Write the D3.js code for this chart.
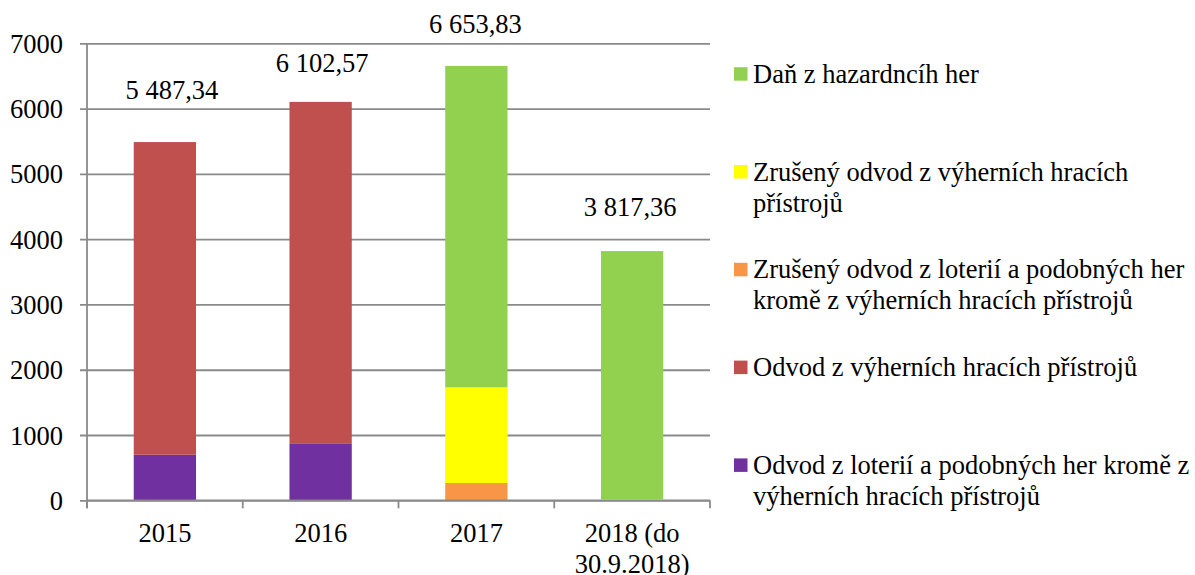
<!DOCTYPE html>
<html>
<head>
<meta charset="utf-8">
<script src="https://cdn.jsdelivr.net/npm/d3@7"></script>
<style>
    body { margin: 0; background: #fff; }
</style>
</head>
<body>
<div id="chart"></div>
<script>
// data (mil. Kč)
const categories = ['2015', '2016', '2017', '2018 (do 30.9.2018)'];
const categoryLines = [['2015'], ['2016'], ['2017'], ['2018 (do', '30.9.2018)']];
const odvodLoterie = [698, 873, 0, 0];             // purple
const odvodVhp = [4789.34, 5229.57, 0, 0];         // red
const zrusenyLoterie = [0, 0, 265, 0];             // orange
const zrusenyVhp = [0, 0, 1465, 20];               // yellow
const danHazard = [0, 0, 4923.83, 3797.36];        // green
const totals = [5487.34, 6102.57, 6653.83, 3817.36];
const totalLabels = ['5 487,34', '6 102,57', '6 653,83', '3 817,36'];
const yTicks = [0, 1000, 2000, 3000, 4000, 5000, 6000, 7000];

const seriesKeys = ['odvodLoterie', 'odvodVhp', 'zrusenyLoterie', 'zrusenyVhp', 'danHazard'];
const seriesNames = {
    odvodLoterie: ['Odvod z loterií a podobných her kromě z', 'výherních hracích přístrojů'],
    odvodVhp: ['Odvod z výherních hracích přístrojů'],
    zrusenyLoterie: ['Zrušený odvod z loterií a podobných her', 'kromě z výherních hracích přístrojů'],
    zrusenyVhp: ['Zrušený odvod z výherních hracích', 'přístrojů'],
    danHazard: ['Daň z hazardncíh her']
};
const colors = {
    odvodLoterie: '#7030A0',
    odvodVhp: '#C0504D',
    zrusenyLoterie: '#F79646',
    zrusenyVhp: '#FFFF00',
    danHazard: '#92D050'
};
const axisColor = '#8a8a8a';
const fontFamily = 'Liberation Serif';
const fontSize = 26.5;

// the total labels were hand placed in the original, so nudge each one
const labelShift = [[7, 43], [1.5, 30], [-1, 33], [-2, 35]];

function stackedBars() {
    const width = 1195, height = 575;
    const plot = {left: 87, right: 710, top: 43.3, bottom: 500.3};

    const svg = d3.select('#chart')
        .append('svg')
        .attr('width', width)
        .attr('height', height)
        .attr('font-family', fontFamily)
        .attr('font-size', fontSize);

    const table = categories.map((c, i) => ({
        category: c,
        odvodLoterie: odvodLoterie[i],
        odvodVhp: odvodVhp[i],
        zrusenyLoterie: zrusenyLoterie[i],
        zrusenyVhp: zrusenyVhp[i],
        danHazard: danHazard[i]
    }));
    const stacked = d3.stack().keys(seriesKeys)(table);

    const x = d3.scaleBand()
        .domain(categories)
        .range([plot.left, plot.right])
        .paddingInner(0.6)
        .paddingOuter(0.3);

    const y = d3.scaleLinear()
        .domain([0, 7000])
        .range([plot.bottom, plot.top]);

    // gridlines + y axis
    const yAxis = svg.append('g')
        .attr('transform', `translate(${plot.left}, 0)`)
        .call(d3.axisLeft(y).tickValues(yTicks).tickSize(7).tickFormat(d3.format('d')))
        .attr('font-family', fontFamily)
        .attr('font-size', fontSize);
    yAxis.select('.domain').remove();
    yAxis.selectAll('.tick line')
        .attr('x1', -7)
        .attr('x2', plot.right - plot.left)
        .attr('stroke', axisColor)
        .attr('stroke-width', 1.8);
    yAxis.selectAll('.tick text')
        .attr('x', -24)
        .attr('dy', '0.34em')
        .attr('fill', '#000');

    svg.append('line')
        .attr('x1', plot.left).attr('x2', plot.left)
        .attr('y1', plot.top).attr('y2', plot.bottom + 8)
        .attr('stroke', axisColor)
        .attr('stroke-width', 1.8);

    // bars
    svg.append('g')
        .selectAll('g')
        .data(stacked)
        .enter()
        .append('g')
        .attr('fill', d => colors[d.key])
        .selectAll('rect')
        .data(d => d)
        .enter()
        .append('rect')
        .attr('x', d => x(d.data.category))
        .attr('width', x.bandwidth())
        .attr('y', d => y(d[1]))
        .attr('height', d => y(d[0]) - y(d[1]));

    // x axis line with ticks on the category boundaries
    svg.append('line')
        .attr('x1', plot.left).attr('x2', plot.right)
        .attr('y1', plot.bottom).attr('y2', plot.bottom)
        .attr('stroke', axisColor)
        .attr('stroke-width', 1.8);
    const step = x.step();
    svg.append('g')
        .selectAll('line')
        .data(d3.range(categories.length + 1))
        .enter()
        .append('line')
        .attr('x1', i => plot.left + i * step)
        .attr('x2', i => plot.left + i * step)
        .attr('y1', plot.bottom)
        .attr('y2', plot.bottom + 8)
        .attr('stroke', axisColor)
        .attr('stroke-width', 1.8);

    // category labels
    svg.append('g')
        .selectAll('text')
        .data(categories)
        .enter()
        .append('text')
        .attr('text-anchor', 'middle')
        .attr('transform', d => `translate(${x(d) + x.bandwidth() / 2}, 541.5)`)
        .each(function(d, i) {
            d3.select(this).selectAll('tspan')
                .data(categoryLines[i])
                .enter()
                .append('tspan')
                .attr('x', 0)
                .attr('y', (t, j) => j * 31)
                .text(t => t);
        });

    // totals above bars
    svg.append('g')
        .selectAll('text')
        .data(totals)
        .enter()
        .append('text')
        .attr('text-anchor', 'middle')
        .attr('x', (d, i) => x(categories[i]) + x.bandwidth() / 2 + labelShift[i][0])
        .attr('y', (d, i) => y(d) - labelShift[i][1])
        .text((d, i) => totalLabels[i]);

    // legend, top to bottom reversed from the stack
    const legendKeys = seriesKeys.slice().reverse();
    const legend = svg.append('g')
        .selectAll('g')
        .data(legendKeys)
        .enter()
        .append('g')
        .attr('transform', (d, i) => `translate(734, ${82.7 + i * 97.8})`);

    legend.append('rect')
        .attr('x', 0)
        .attr('y', -15.5)
        .attr('width', 13.5)
        .attr('height', 13.5)
        .attr('fill', d => colors[d]);

    legend.append('text')
        .each(function(d) {
            d3.select(this).selectAll('tspan')
                .data(seriesNames[d])
                .enter()
                .append('tspan')
                .attr('x', 19)
                .attr('y', (t, j) => j * 31)
                .text(t => t);
        });
}

function main() {
    stackedBars();
}

main();
</script>
</body>
</html>
